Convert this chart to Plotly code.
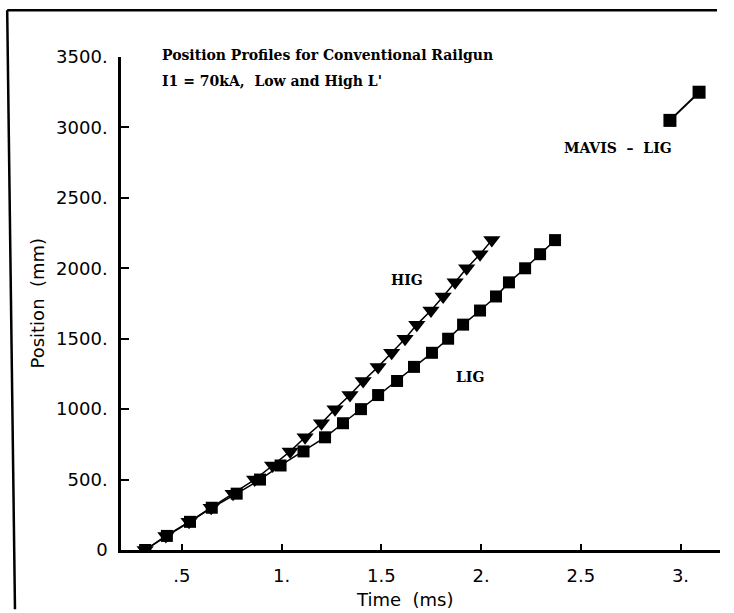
import plotly.graph_objects as go

# Data (time in ms, position in mm)
lig_time = [0.316, 0.425, 0.541, 0.650, 0.775, 0.892, 0.995, 1.110, 1.218, 1.308,
            1.398, 1.484, 1.579, 1.664, 1.754, 1.835, 1.910, 1.995, 2.075, 2.140,
            2.221, 2.296, 2.371]
lig_pos = [0, 100, 200, 300, 400, 500, 600, 700, 800, 900, 1000, 1100, 1200, 1300,
           1400, 1500, 1600, 1700, 1800, 1900, 2000, 2100, 2200]

hig_time = [0.316, 0.420, 0.536, 0.647, 0.757, 0.865, 0.955, 1.043, 1.118, 1.200,
            1.268, 1.343, 1.409, 1.484, 1.552, 1.619, 1.678, 1.749, 1.810, 1.870,
            1.928, 1.995, 2.054]
hig_pos = [0, 100, 200, 300, 400, 500, 600, 700, 800, 900, 1000, 1100, 1200, 1300,
           1400, 1500, 1600, 1700, 1800, 1900, 2000, 2100, 2200]

mavis_time = [2.947, 3.093]
mavis_pos = [3050, 3250]

x_tickvals = [0.5, 1.0, 1.5, 2.0, 2.5, 3.0]
x_ticktext = [".5", "1.", "1.5", "2.", "2.5", "3."]
y_tickvals = [0, 500, 1000, 1500, 2000, 2500, 3000, 3500]
y_ticktext = ["0", "500.", "1000.", "1500.", "2000.", "2500.", "3000.", "3500."]

title_lines = ["Position Profiles for Conventional Railgun",
               "I1 = 70kA,  Low and High L'"]

fig = go.Figure()

fig.add_trace(go.Scatter(
    x=hig_time, y=hig_pos, mode="lines+markers",
    line=dict(color="black", width=1.5),
    marker=dict(symbol="triangle-down", size=15, color="black"),
    showlegend=False))
fig.add_trace(go.Scatter(
    x=lig_time, y=lig_pos, mode="lines+markers",
    line=dict(color="black", width=1.5),
    marker=dict(symbol="square", size=12, color="black"),
    showlegend=False))
fig.add_trace(go.Scatter(
    x=mavis_time, y=mavis_pos, mode="lines+markers",
    line=dict(color="black", width=2),
    marker=dict(symbol="square", size=13, color="black"),
    showlegend=False))

serif = dict(family="DejaVu Serif", size=14, color="black", weight="bold")
sans = dict(family="DejaVu Sans", size=18, color="black")

annotations = [
    dict(x=0.065, y=1.004, xref="paper", yref="paper", text=title_lines[0],
         showarrow=False, xanchor="left", yanchor="middle", font=serif),
    dict(x=0.065, y=0.951, xref="paper", yref="paper", text=title_lines[1],
         showarrow=False, xanchor="left", yanchor="middle", font=serif),
    dict(x=1.629, y=1916, text="HIG", showarrow=False, font=serif),
    dict(x=1.945, y=1228, text="LIG", showarrow=False, font=serif),
    dict(x=2.687, y=2853, text="MAVIS  \u2013  LIG", showarrow=False, font=serif),
    dict(x=-0.141, y=0.501, xref="paper", yref="paper", text="Position  (mm)",
         textangle=-90, showarrow=False, xanchor="center", yanchor="middle",
         font=sans),
    dict(x=0.474, y=-0.101, xref="paper", yref="paper", text="Time  (ms)",
         showarrow=False, xanchor="center", yanchor="middle", font=sans),
]

# outer frame of the scanned page: left edge (slightly tilted) and top edge
shapes = [
    dict(type="line", xref="paper", yref="paper",
         x0=-0.190, y0=1.095, x1=-0.177, y1=-0.120,
         line=dict(color="black", width=2.5)),
    dict(type="line", xref="paper", yref="paper",
         x0=-0.190, y0=1.095, x1=0.995, y1=1.095,
         line=dict(color="black", width=2.5)),
]

fig.update_layout(
    width=734, height=613,
    margin=dict(l=121, r=14, t=57, b=63),
    paper_bgcolor="white", plot_bgcolor="white",
    annotations=annotations, shapes=shapes,
    xaxis=dict(range=[0.195, 3.198], tickvals=x_tickvals, ticktext=x_ticktext,
               ticks="inside", ticklen=6, tickwidth=1.5, tickcolor="black",
               showline=True, linecolor="black", linewidth=2.5,
               showgrid=False, zeroline=False, tickfont=sans,
               ticklabelstandoff=8),
    yaxis=dict(range=[0, 3500], tickvals=y_tickvals, ticktext=y_ticktext,
               ticks="inside", ticklen=8, tickwidth=1.5, tickcolor="black",
               showline=True, linecolor="black", linewidth=2.5,
               showgrid=False, zeroline=False, tickfont=sans,
               ticklabelstandoff=7),
)

fig.write_html("out.html")
